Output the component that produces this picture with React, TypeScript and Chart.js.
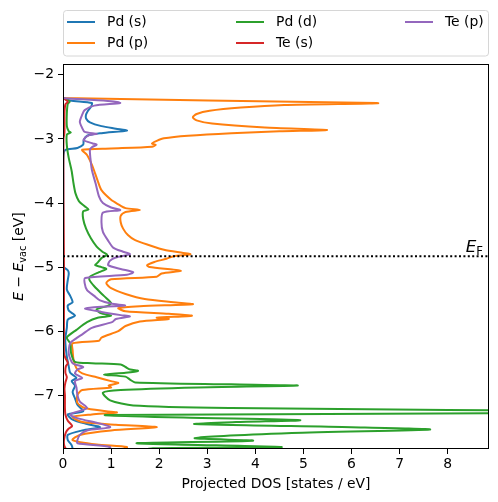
import React, { useEffect, useRef } from "react";
import { Chart, registerables } from "chart.js";

Chart.register(...registerables);

const FONT = '"DejaVu Sans", sans-serif';
const FS = 13.9;

const xTickValues = [0, 1, 2, 3, 4, 5, 6, 7, 8];
const yTickValues = [-7, -6, -5, -4, -3, -2];
const xAxisMax = 8.86;
const yAxisMin = -7.84;
const yAxisMax = -1.83;
const fermiEnergy = -4.83;
const xAxisTitle = "Projected DOS [states / eV]";

const seriesLabels = ["Pd (s)", "Pd (p)", "Pd (d)", "Te (s)", "Te (p)"];
const seriesColors = ["#1f77b4", "#ff7f0e", "#2ca02c", "#d62728", "#9467bd"];

// [energy (eV), projected DOS]
const pdS: number[][] = [
  [-2.3, 0], [-2.36, 0], [-2.4, 0.15], [-2.44, 0.6], [-2.5, 0.58], [-2.56, 0.52], [-2.62, 0.48],
  [-2.68, 0.48], [-2.74, 0.56], [-2.8, 0.8], [-2.84, 1.1], [-2.87, 1.33], [-2.91, 0.8], [-2.95, 0.5], [-3.02, 0.43],
  [-3.09, 0.42], [-3.14, 0.3], [-3.17, 0.05], [-3.25, 0.01], [-3.6, 0.005], [-4.2, 0.005], [-4.9, 0.005],
  [-5.0, 0.02], [-5.05, 0.1], [-5.1, 0.12], [-5.2, 0.1], [-5.35, 0.08], [-5.45, 0.15], [-5.55, 0.2],
  [-5.6, 0.1], [-5.68, 0.12], [-5.76, 0.25], [-5.82, 0.1], [-5.95, 0.08], [-6.1, 0.05], [-6.2, 0.05],
  [-6.4, 0.08], [-6.55, 0.12], [-6.65, 0.15], [-6.73, 0.28], [-6.78, 0.18], [-6.85, 0.25], [-6.95, 0.2],
  [-7.05, 0.25], [-7.15, 0.3], [-7.25, 0.42], [-7.3, 0.1], [-7.38, 0.2], [-7.45, 0.5], [-7.5, 0.77],
  [-7.55, 0.4], [-7.62, 0.1], [-7.7, 0.1], [-7.78, 0.18], [-7.84, 0.2], [-7.9, 0.2],
];

const pdP: number[][] = [
  [-2.3, 0], [-2.36, 0], [-2.44, 6.53], [-2.47, 4.6], [-2.51, 3.7], [-2.56, 3.05], [-2.61, 2.78],
  [-2.66, 2.7], [-2.71, 2.78], [-2.76, 3.1], [-2.82, 4.2], [-2.86, 5.49], [-2.88, 4.5], [-2.91, 3.5],
  [-2.95, 2.6], [-2.99, 2.1],
  [-3.03, 1.95], [-3.07, 1.85], [-3.09, 1.93], [-3.12, 1.85], [-3.15, 1.0], [-3.17, 0.4], [-3.25, 0.5],
  [-3.4, 0.6], [-3.5, 0.65], [-3.65, 0.72], [-3.8, 0.8], [-3.95, 1.0], [-4.02, 1.15], [-4.08, 1.3],
  [-4.11, 1.6], [-4.14, 1.3], [-4.2, 1.2], [-4.3, 1.2], [-4.4, 1.25], [-4.5, 1.35], [-4.58, 1.5],
  [-4.66, 1.8], [-4.73, 2.1], [-4.78, 2.5], [-4.8, 2.65], [-4.83, 2.3], [-4.87, 2.15], [-4.92, 1.9],
  [-4.97, 1.75], [-5.0, 1.8], [-5.04, 2.3], [-5.06, 2.45], [-5.1, 2.05], [-5.15, 1.95], [-5.19, 1.0],
  [-5.25, 0.9], [-5.33, 1.0], [-5.42, 1.3], [-5.5, 1.7], [-5.55, 2.3], [-5.58, 2.7], [-5.61, 1.6],
  [-5.64, 1.15], [-5.69, 1.3], [-5.73, 2.2], [-5.76, 2.68], [-5.79, 1.95], [-5.81, 2.2], [-5.85, 1.6],
  [-5.92, 1.3], [-6.0, 1.15], [-6.1, 0.8], [-6.15, 0.75], [-6.19, 0.2], [-6.3, 0.2], [-6.45, 0.22],
  [-6.58, 0.28], [-6.66, 0.4], [-6.72, 0.7], [-6.78, 1.0], [-6.81, 1.15], [-6.85, 0.95], [-6.88, 1.0],
  [-6.92, 0.4], [-7.0, 0.3], [-7.12, 0.3], [-7.2, 0.45], [-7.25, 0.9], [-7.27, 1.12], [-7.3, 0.6],
  [-7.34, 0.2], [-7.42, 0.4], [-7.46, 1.1], [-7.5, 1.95], [-7.55, 1.0], [-7.62, 0.35], [-7.7, 0.2],
  [-7.77, 0.7], [-7.81, 1.33], [-7.86, 1.2],
];

const pdD: number[][] = [
  [-2.3, 0], [-2.36, 0], [-2.38, 0.08], [-2.42, 0.14], [-2.45, 0.1], [-2.6, 0.08], [-2.8, 0.08],
  [-2.88, 0.12], [-2.9, 0.16], [-2.93, 0.08], [-3.1, 0.08], [-3.3, 0.12], [-3.5, 0.18], [-3.7, 0.22],
  [-3.85, 0.26], [-3.97, 0.33], [-4.05, 0.45], [-4.1, 0.53], [-4.13, 0.42], [-4.25, 0.42], [-4.4, 0.48],
  [-4.55, 0.58], [-4.68, 0.7], [-4.76, 0.82], [-4.81, 0.92], [-4.86, 0.8], [-4.93, 0.72], [-4.97, 0.67],
  [-5.0, 0.8], [-5.03, 0.9], [-5.08, 0.75], [-5.15, 0.56], [-5.2, 0.55], [-5.3, 0.65], [-5.45, 0.85],
  [-5.56, 1.0], [-5.6, 0.95], [-5.66, 0.7], [-5.72, 0.78], [-5.76, 1.0], [-5.79, 0.72], [-5.86, 0.5],
  [-5.98, 0.28], [-6.1, 0.08], [-6.19, 0.15], [-6.35, 0.17], [-6.48, 0.25], [-6.5, 0.6], [-6.52, 1.2],
  [-6.56, 1.3], [-6.6, 1.4], [-6.62, 1.56], [-6.65, 1.3], [-6.68, 0.85], [-6.71, 1.3], [-6.76, 1.4],
  [-6.8, 1.5], [-6.83, 3.5], [-6.85, 4.88], [-6.88, 2.8], [-6.92, 1.2], [-6.96, 0.83], [-7.08, 0.98],
  [-7.16, 1.46], [-7.2, 3.5], [-7.23, 8.0], [-7.255, 11], [-7.28, 9.5], [-7.31, 0.9], [-7.35, 2.5],
  [-7.39, 4.93], [-7.42, 3.6], [-7.45, 2.74], [-7.5, 6.0], [-7.535, 7.63], [-7.59, 4.76], [-7.67, 2.74],
  [-7.71, 3.95], [-7.75, 1.53], [-7.81, 4.55], [-7.83, 1.87], [-7.88, 1.5],
];

const teS: number[][] = [
  [-2.3, 0], [-2.36, 0], [-2.38, 0.04], [-2.42, 0.1], [-2.46, 0.05], [-2.6, 0.03], [-2.9, 0.03],
  [-3.0, 0.01], [-4.0, 0.01], [-5.0, 0.02], [-6.0, 0.02], [-6.35, 0.02], [-6.42, 0.05], [-6.5, 0.1],
  [-6.55, 0.06], [-6.65, 0.05], [-6.72, 0.08], [-6.8, 0.05], [-6.9, 0.03], [-7.0, 0.04], [-7.2, 0.04],
  [-7.3, 0.05], [-7.4, 0.1], [-7.48, 0.19], [-7.52, 0.12], [-7.58, 0.06], [-7.7, 0.02], [-7.8, 0.03],
  [-7.88, 0.1],
];

const teP: number[][] = [
  [-2.3, 0], [-2.36, 0], [-2.38, 0.4], [-2.41, 1.0], [-2.44, 1.19], [-2.48, 0.65], [-2.55, 0.45],
  [-2.62, 0.4], [-2.73, 0.35], [-2.83, 0.4], [-2.89, 0.45], [-2.92, 0.7], [-2.94, 0.55], [-2.98, 0.46],
  [-3.02, 0.43], [-3.07, 0.62], [-3.09, 0.7], [-3.13, 0.6], [-3.17, 0.56], [-3.3, 0.57], [-3.48, 0.6],
  [-3.7, 0.68], [-3.9, 0.75], [-4.0, 0.83], [-4.07, 1.0], [-4.11, 1.19], [-4.15, 0.83], [-4.3, 0.8],
  [-4.45, 0.83], [-4.6, 0.95], [-4.7, 1.05], [-4.76, 1.25], [-4.8, 1.39], [-4.85, 1.1], [-4.9, 0.98],
  [-4.97, 0.94], [-5.03, 1.2], [-5.08, 1.46], [-5.12, 1.33], [-5.17, 0.46], [-5.25, 0.45], [-5.36, 0.5],
  [-5.45, 0.65], [-5.52, 0.77], [-5.57, 1.0], [-5.6, 1.29], [-5.63, 0.6], [-5.65, 0.46], [-5.7, 0.8],
  [-5.75, 1.2], [-5.77, 1.39], [-5.81, 1.1], [-5.86, 1.02], [-5.95, 0.6], [-6.05, 0.4], [-6.11, 0.28],
  [-6.19, 0.15], [-6.35, 0.12], [-6.5, 0.2], [-6.56, 0.42], [-6.6, 0.3], [-6.66, 0.25], [-6.73, 0.4],
  [-6.78, 0.25], [-6.88, 0.28], [-7.0, 0.3], [-7.1, 0.35], [-7.2, 0.5], [-7.28, 0.2], [-7.31, 0.15],
  [-7.37, 0.35], [-7.43, 0.7], [-7.5, 0.98], [-7.55, 0.5], [-7.62, 0.35], [-7.7, 0.3], [-7.75, 0.3],
  [-7.81, 0.98], [-7.88, 0.9],
];

const seriesCurves = [pdS, pdP, pdD, teS, teP];

const fmtTick = (v: number) => (v < 0 ? "\u2212" + Math.abs(v) : String(v));

type Part = { text: string; font: string; dy: number };

function drawParts(ctx: CanvasRenderingContext2D, parts: Part[], startX: number, baseY: number) {
  let x = startX;
  for (const p of parts) {
    ctx.font = p.font;
    ctx.fillText(p.text, x, baseY + p.dy);
    x += ctx.measureText(p.text).width;
  }
}
function partsWidth(ctx: CanvasRenderingContext2D, parts: Part[]) {
  let w = 0;
  for (const p of parts) {
    ctx.font = p.font;
    w += ctx.measureText(p.text).width;
  }
  return w;
}

const decorPlugin = {
  id: "decor",
  afterDatasetsDraw(chart: any) {
    const ctx: CanvasRenderingContext2D = chart.ctx;
    const { left, right, top, bottom } = chart.chartArea;
    const ys = chart.scales.y;
    ctx.save();
    ctx.strokeStyle = "#000";
    ctx.lineWidth = 1;
    ctx.strokeRect(left + 0.5, top + 0.5, right - left - 1, bottom - top - 1);

    ctx.fillStyle = "#000";
    ctx.textBaseline = "alphabetic";
    const efParts: Part[] = [
      { text: "E", font: `italic 16.7px ${FONT}`, dy: 0 },
      { text: "F", font: `11.7px ${FONT}`, dy: 2.5 },
    ];
    const efW = partsWidth(ctx, efParts);
    const efY = ys.getPixelForValue(fermiEnergy) - 4;
    drawParts(ctx, efParts, right - 6 - efW, efY);

    const yParts: Part[] = [
      { text: "E", font: `italic ${FS}px ${FONT}`, dy: 0 },
      { text: " \u2212 ", font: `${FS}px ${FONT}`, dy: 0 },
      { text: "E", font: `italic ${FS}px ${FONT}`, dy: 0 },
      { text: "vac", font: `${(FS * 0.7).toFixed(2)}px ${FONT}`, dy: 3 },
      { text: " [eV]", font: `${FS}px ${FONT}`, dy: 0 },
    ];
    const yw = partsWidth(ctx, yParts);
    ctx.translate(23, (top + bottom) / 2);
    ctx.rotate(-Math.PI / 2);
    drawParts(ctx, yParts, -yw / 2, 0);
    ctx.restore();

    ctx.save();
    const lx = left, lw = right - left;
    const ly = 10.5, lh = 45.5, r = 3;
    ctx.beginPath();
    ctx.moveTo(lx + r + 0.5, ly);
    ctx.lineTo(lx + lw - r - 0.5, ly);
    ctx.arcTo(lx + lw - 0.5, ly, lx + lw - 0.5, ly + r, r);
    ctx.lineTo(lx + lw - 0.5, ly + lh - r);
    ctx.arcTo(lx + lw - 0.5, ly + lh, lx + lw - r - 0.5, ly + lh, r);
    ctx.lineTo(lx + r + 0.5, ly + lh);
    ctx.arcTo(lx + 0.5, ly + lh, lx + 0.5, ly + lh - r, r);
    ctx.lineTo(lx + 0.5, ly + r);
    ctx.arcTo(lx + 0.5, ly, lx + r + 0.5, ly, r);
    ctx.closePath();
    ctx.fillStyle = "rgba(255,255,255,0.8)";
    ctx.fill();
    ctx.strokeStyle = "#d6d6d6";
    ctx.lineWidth = 1;
    ctx.stroke();
    const colX = [4, 173, 342];
    const rowY = [22, 43];
    ctx.font = `${FS}px ${FONT}`;
    ctx.textBaseline = "middle";
    ctx.textAlign = "left";
    seriesLabels.forEach((label, i) => {
      const col = Math.floor(i / 2);
      const row = i % 2;
      const x0 = lx + colX[col];
      const y0 = rowY[row];
      ctx.strokeStyle = seriesColors[i];
      ctx.lineWidth = 2;
      ctx.beginPath();
      ctx.moveTo(x0, y0);
      ctx.lineTo(x0 + 28, y0);
      ctx.stroke();
      ctx.fillStyle = "#000";
      ctx.fillText(label, x0 + 40, y0 + 0.5);
    });
    ctx.restore();
  },
};

export default function App() {
  const canvasRef = useRef<HTMLCanvasElement | null>(null);

  useEffect(() => {
    if (!canvasRef.current) return;
    const datasets: any[] = seriesCurves.map((curve, i) => ({
      label: seriesLabels[i],
      data: curve.map(([e, d]) => ({ x: d, y: e })),
      showLine: true,
      borderColor: seriesColors[i],
      backgroundColor: seriesColors[i],
      borderWidth: 2,
      pointRadius: 0,
      pointHoverRadius: 0,
      tension: 0.25,
      fill: false,
      order: seriesCurves.length - i,
    }));
    datasets.push({
      label: "E_F",
      data: [
        { x: 0, y: fermiEnergy },
        { x: xAxisMax, y: fermiEnergy },
      ],
      showLine: true,
      borderColor: "#000",
      borderWidth: 2,
      borderDash: [2, 2.4],
      borderCapStyle: "butt",
      pointRadius: 0,
      tension: 0,
      order: 0,
    });

    const tickFont = { family: FONT, size: FS };
    const chart = new Chart(canvasRef.current, {
      type: "scatter",
      data: { datasets },
      plugins: [decorPlugin],
      options: {
        responsive: false,
        animation: false,
        devicePixelRatio: 1,
        layout: { padding: { left: 0, right: 9, top: 64, bottom: 0 } },
        plugins: {
          legend: { display: false },
          tooltip: { enabled: false },
        },
        scales: {
          x: {
            type: "linear",
            position: "bottom",
            min: 0,
            max: xAxisMax,
            afterBuildTicks: (s: any) => {
              s.ticks = xTickValues.map((v) => ({ value: v }));
            },
            afterFit: (s: any) => {
              s.height = 53;
            },
            ticks: {
              font: tickFont,
              color: "#000",
              padding: 2,
              maxRotation: 0,
              autoSkip: false,
              callback: (v: any) => fmtTick(Number(v)),
            },
            grid: {
              display: true,
              drawOnChartArea: false,
              drawTicks: true,
              tickLength: 5,
              color: "#000",
              lineWidth: 1,
            },
            border: { display: false },
            title: {
              display: true,
              text: xAxisTitle,
              font: { family: FONT, size: FS },
              color: "#000",
              padding: { top: 0, bottom: 9.7 },
            },
          },
          y: {
            type: "linear",
            position: "left",
            min: yAxisMin,
            max: yAxisMax,
            afterBuildTicks: (s: any) => {
              s.ticks = yTickValues.map((v) => ({ value: v }));
            },
            afterFit: (s: any) => {
              s.width = 63;
            },
            ticks: {
              font: tickFont,
              color: "#000",
              padding: 4,
              autoSkip: false,
              callback: (v: any) => fmtTick(Number(v)),
            },
            grid: {
              display: true,
              drawOnChartArea: false,
              drawTicks: true,
              tickLength: 5,
              color: "#000",
              lineWidth: 1,
            },
            border: { display: false },
          },
        },
      } as any,
    });
    return () => chart.destroy();
  }, []);

  return (
    <div style={{ position: "absolute", left: 0, top: 0, width: 498, height: 502, background: "#fff" }}>
      <canvas ref={canvasRef} width={498} height={502} style={{ width: 498, height: 502, display: "block" }} />
    </div>
  );
}
